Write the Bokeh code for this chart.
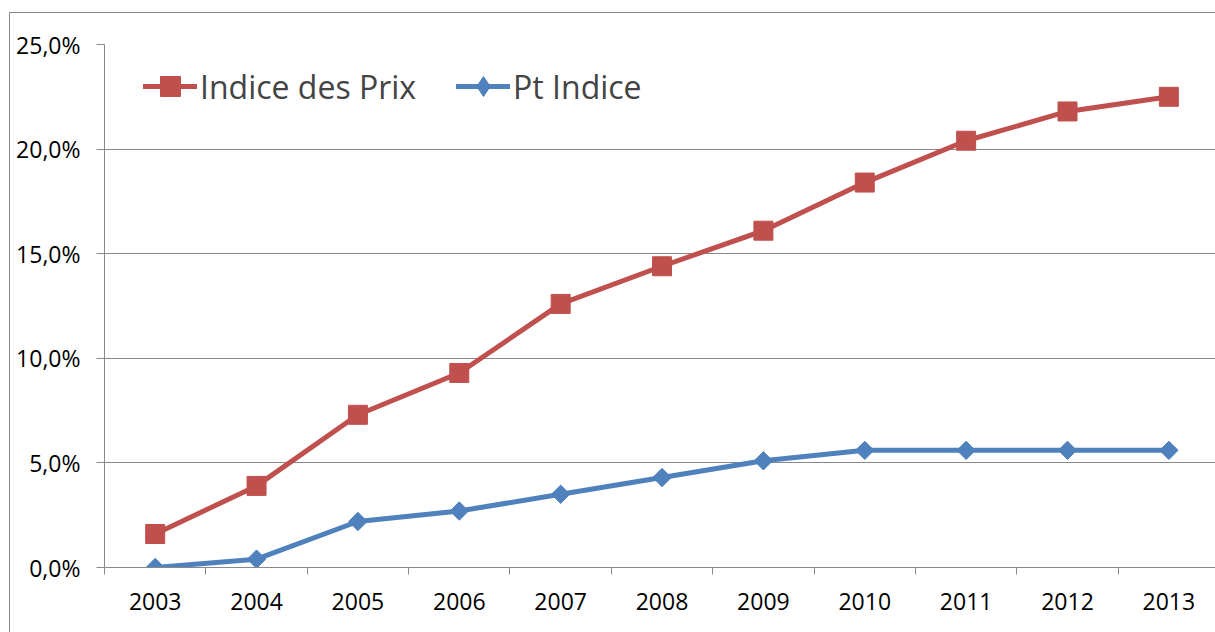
import math
from bokeh.plotting import figure
from bokeh.models import Range1d, FixedTicker, Legend, LegendItem
from bokeh.embed import file_html
from bokeh.resources import INLINE

years = [2003, 2004, 2005, 2006, 2007, 2008, 2009, 2010, 2011, 2012, 2013]
indice_prix = [1.6, 3.9, 7.3, 9.3, 12.6, 14.4, 16.1, 18.4, 20.4, 21.8, 22.5]
pt_indice = [0.0, 0.4, 2.2, 2.7, 3.5, 4.3, 5.1, 5.6, 5.6, 5.6, 5.6]
y_ticks = [0, 5, 10, 15, 20, 25]
y_tick_labels = ["0,0%", "5,0%", "10,0%", "15,0%", "20,0%", "25,0%"]
x_tick_labels = [str(y) for y in years]
series_names = ["Indice des Prix", "Pt Indice"]

RED = "#C0504D"
BLUE = "#4F81BD"
GRAY = "#888888"
FONT = "Open Sans"

p = figure(width=1215, height=632, output_backend="svg", toolbar_location=None,
           x_range=Range1d(2002.5, 2013.46), y_range=Range1d(0, 25))
p.min_border = 0
p.min_border_left = 104
p.min_border_right = 0
p.min_border_top = 44
p.min_border_bottom = 65
p.background_fill_color = "white"
p.border_fill_alpha = 0
p.outline_line_color = None
p.styles = {"box-shadow": "inset 9px 12px 0 0 #ffffff, inset 10px 13px 0 0 " + GRAY}

# x axis
p.xaxis.ticker = FixedTicker(ticks=years, minor_ticks=[y - 0.5 for y in years] + [years[-1] + 0.5])
p.xaxis.major_label_overrides = {y: lab for y, lab in zip(years, x_tick_labels)}
p.xaxis.major_tick_line_color = None
p.xaxis.major_tick_out = 0
p.xaxis.major_tick_in = 0
p.xaxis.minor_tick_out = 7
p.xaxis.minor_tick_in = 0
p.xaxis.minor_tick_line_color = GRAY
p.xaxis.minor_tick_line_width = 1
p.xaxis.axis_line_color = GRAY
p.xaxis.axis_line_width = 1
p.xaxis.major_label_standoff = 18
p.xaxis.major_label_text_font = FONT
p.xaxis.major_label_text_font_size = "23px"
p.xaxis.major_label_text_color = "black"

# y axis
p.yaxis.ticker = FixedTicker(ticks=y_ticks, minor_ticks=[])
p.yaxis.major_label_overrides = {t: lab for t, lab in zip(y_ticks, y_tick_labels)}
p.yaxis.major_tick_out = 8
p.yaxis.major_tick_in = 0
p.yaxis.major_tick_line_color = GRAY
p.yaxis.minor_tick_line_color = None
p.yaxis.axis_line_color = GRAY
p.yaxis.major_label_standoff = 16
p.yaxis.major_label_text_font = FONT
p.yaxis.major_label_text_font_size = "23px"
p.yaxis.major_label_text_color = "black"

p.xgrid.visible = False
p.ygrid.ticker = FixedTicker(ticks=y_ticks, minor_ticks=[])
p.ygrid.grid_line_color = GRAY
p.ygrid.grid_line_width = 1

r1 = p.line(years, indice_prix, line_color=RED, line_width=5, line_join="round", line_cap="round")
s1 = p.scatter(years, indice_prix, marker="square", size=19, fill_color=RED, line_color=RED)
r2 = p.line(years, pt_indice, line_color=BLUE, line_width=5, line_join="round", line_cap="round")
s2 = p.scatter(years, pt_indice, marker="square", angle=math.pi / 4, size=13, fill_color=BLUE, line_color=BLUE)
# legend-only diamond swatch (legend glyphs are never rotated)
s2_key = p.scatter([float("nan")], [float("nan")], marker="diamond", size=13, fill_color=BLUE, line_color=BLUE)

legend = Legend(items=[LegendItem(label=series_names[0], renderers=[r1, s1]),
                       LegendItem(label=series_names[1], renderers=[r2, s2_key])],
                location=(39, 456), orientation="horizontal",
                padding=0, margin=0, spacing=40, label_standoff=3,
                glyph_width=54, glyph_height=50,
                label_text_font=FONT, label_text_font_size="32px",
                background_fill_alpha=0, border_line_color=None)
p.add_layout(legend)

open("out.html", "w").write(file_html(p, INLINE))
